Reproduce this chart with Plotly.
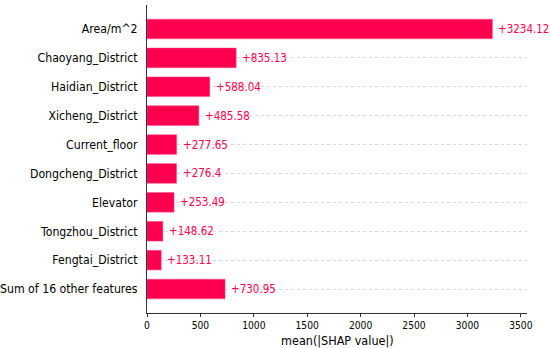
import plotly.graph_objects as go

features = ["Area/m^2", "Chaoyang_District", "Haidian_District", "Xicheng_District",
            "Current_floor", "Dongcheng_District", "Elevator", "Tongzhou_District",
            "Fengtai_District", "Sum of 16 other features"]
values = [3234.12, 835.13, 588.04, 485.58, 277.65, 276.4, 253.49, 148.62, 133.11, 730.95]
labels = ["+3234.12", "+835.13", "+588.04", "+485.58", "+277.65", "+276.4",
          "+253.49", "+148.62", "+133.11", "+730.95"]
xticks = [0, 500, 1000, 1500, 2000, 2500, 3000, 3500]
x_title = "mean(|SHAP value|)"

red = "#ff0051"
FONT = "DejaVu Sans Condensed, DejaVu Sans"
pos = list(range(len(features)))

fig = go.Figure()
fig.add_trace(go.Bar(
    y=pos, x=values, orientation="h", width=0.68,
    marker=dict(color=red, line=dict(color="#ff4d85", width=0.5)),
    hoverinfo="skip",
))
for p, v, t in zip(pos, values, labels):
    fig.add_annotation(x=v, y=p, text=t, showarrow=False, xanchor="left",
                       yanchor="middle", xshift=4,
                       font=dict(color=red, size=11.5, family=FONT))
fig.add_annotation(xref="paper", yref="paper", x=0.5, y=0, yshift=-27,
                   xanchor="center", yanchor="middle", showarrow=False,
                   text=x_title, font=dict(size=12.5, color="black", family=FONT))

fig.update_layout(
    width=550, height=348,
    margin=dict(l=147, r=23, t=5, b=35),
    plot_bgcolor="white", paper_bgcolor="white",
    showlegend=False,
    font=dict(family=FONT, color="black"),
)
fig.update_yaxes(
    tickvals=pos, ticktext=features, range=[9.83, -0.83],
    showline=True, linecolor="#333", linewidth=1,
    showgrid=True, gridcolor="#d9d9d9", griddash="dot", gridwidth=1,
    ticks="", ticklen=0, tickfont=dict(size=12.2, color="black", family=FONT),
    zeroline=False, automargin=False, ticklabelstandoff=6,
)
fig.update_xaxes(
    range=[0, 3558], tickvals=xticks, ticktext=[str(t) for t in xticks],
    showline=True, linecolor="#333", linewidth=1,
    showgrid=False, zeroline=False,
    ticks="outside", ticklen=3, tickcolor="#333",
    tickfont=dict(size=10.2, color="black", family=FONT),
    automargin=False,
)

fig.write_html("out.html", config={"displayModeBar": False},
               post_script="document.body.style.margin='0';")
